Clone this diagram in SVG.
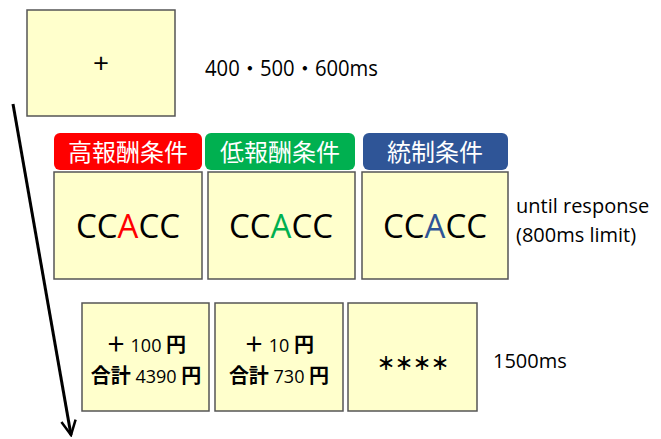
<svg xmlns="http://www.w3.org/2000/svg" width="661" height="439" viewBox="0 0 661 439">
<defs>
<style>
.box{fill:#FFFFCC;stroke:#555;stroke-width:1.5}
.t{font-family:"Open Sans","Liberation Sans","Noto Sans CJK JP",sans-serif;fill:#000}
.lab{font-family:"Noto Sans CJK JP",sans-serif;font-size:24px;fill:#fff;text-anchor:middle}
.big{font-size:33px;text-anchor:middle}
.rw{font-size:18px;text-anchor:middle}
.j{font-family:"Noto Sans CJK JP",sans-serif;font-weight:bold;font-size:20px}
</style>
<marker id="ah" viewBox="0 0 10 10" refX="9" refY="5" markerWidth="6" markerHeight="6" orient="auto" markerUnits="strokeWidth">
<path d="M1,1 L9,5 L1,9" fill="none" stroke="#000" stroke-width="1.4"/>
</marker>
</defs>
<rect width="661" height="439" fill="#fff"/>
<g id="connectors">
<line x1="13" y1="104" x2="71" y2="435" stroke="#000" stroke-width="3" marker-end="url(#ah)"/>
</g>
<g id="fixation">
<rect class="box" x="27" y="10" width="148" height="106"/>
<text class="t" x="101" y="73" font-size="28" text-anchor="middle">+</text>
<text class="t" x="205" y="76" font-size="21" textLength="173" lengthAdjust="spacingAndGlyphs">400・500・600ms</text>
</g>
<g id="label-high">
<rect x="54" y="133" width="148" height="37" rx="6" fill="#FF0000"/>
<text class="lab" x="128" y="161">高報酬条件</text>
</g>
<g id="label-low">
<rect x="205" y="133" width="150" height="37" rx="6" fill="#00B050"/>
<text class="lab" x="280" y="161">低報酬条件</text>
</g>
<g id="label-ctrl">
<rect x="363" y="133" width="145" height="37" rx="6" fill="#2F5597"/>
<text class="lab" x="435" y="161">統制条件</text>
</g>
<g id="stim-high">
<rect class="box" x="54" y="172" width="148" height="107"/>
<text class="t big" x="128" y="238">CC<tspan fill="#FF0000">A</tspan>CC</text>
</g>
<g id="stim-low">
<rect class="box" x="208" y="172" width="147" height="107"/>
<text class="t big" x="281" y="238">CC<tspan fill="#00B050">A</tspan>CC</text>
</g>
<g id="stim-ctrl">
<rect class="box" x="362" y="172" width="146" height="107"/>
<text class="t big" x="435" y="238">CC<tspan fill="#2F5597">A</tspan>CC</text>
</g>
<g id="stim-time">
<text class="t" x="516" y="213" font-size="20">until response</text>
<text class="t" x="516" y="242" font-size="20">(800ms limit)</text>
</g>
<g id="fb-high">
<rect class="box" x="82" y="303" width="127" height="108"/>
<text class="t rw" x="146" y="352"><tspan class="j">＋</tspan> 100 <tspan class="j">円</tspan></text>
<text class="t rw" x="146" y="383"><tspan class="j">合計</tspan> 4390 <tspan class="j">円</tspan></text>
</g>
<g id="fb-low">
<rect class="box" x="215" y="303" width="128" height="108"/>
<text class="t rw" x="279" y="352"><tspan class="j">＋</tspan> 10 <tspan class="j">円</tspan></text>
<text class="t rw" x="279" y="383"><tspan class="j">合計</tspan> 730 <tspan class="j">円</tspan></text>
</g>
<g id="fb-ctrl">
<rect class="box" x="348" y="303" width="129" height="108"/>
<text x="413" y="370" font-size="18" font-weight="900" text-anchor="middle" font-family="Noto Sans CJK JP,sans-serif">＊＊＊＊</text>
</g>
<g id="fb-time">
<text class="t" x="493" y="368" font-size="20">1500ms</text>
</g>
</svg>
